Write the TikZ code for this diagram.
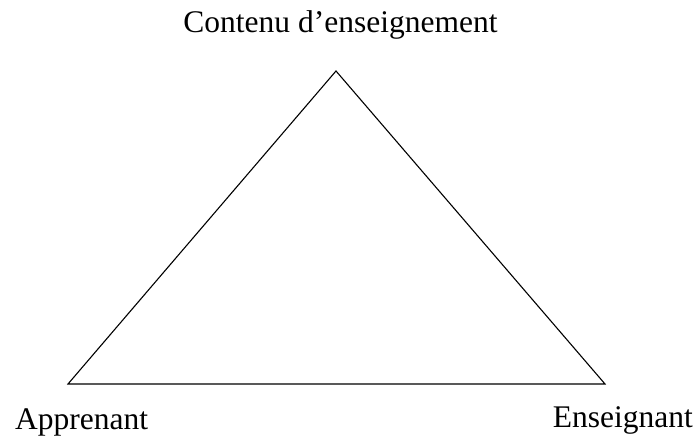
\documentclass[tikz,border=0pt]{standalone}
\usepackage{fontspec}
\setmainfont{Liberation Serif}
\begin{document}
\begin{tikzpicture}[x=1pt,y=-1pt,
  lbl/.style={inner sep=0pt,font=\fontsize{31.5}{36}\selectfont},
  edge/.style={line width=1.1pt,line join=miter}]
\useasboundingbox (0,0) rectangle (694,438);
\coordinate (top) at (336,71);
\coordinate (left) at (68,384);
\coordinate (right) at (605,384);
\draw[edge] (top) -- (left) -- (right) -- cycle;
\node[lbl,anchor=base] (contenu) at (340.5,33) {Contenu d’enseignement};
\node[lbl,anchor=base west] (apprenant) at (15,429) {Apprenant};
\node[lbl,anchor=base east] (enseignant) at (693,428) {Enseignant};
\end{tikzpicture}
\end{document}
